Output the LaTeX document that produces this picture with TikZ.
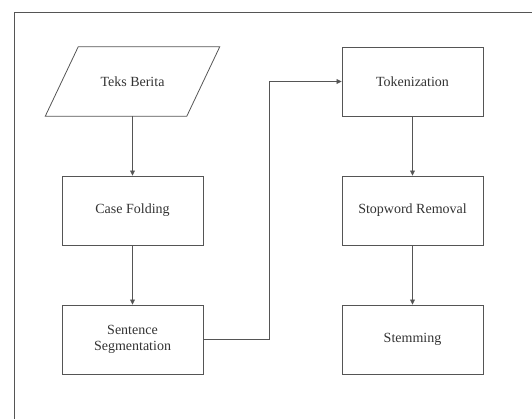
\documentclass[tikz,border=0pt]{standalone}
\usepackage{fontspec}
\setmainfont{Liberation Serif}
\usetikzlibrary{arrows.meta, calc, positioning}
\definecolor{linegray}{HTML}{555555}
\definecolor{textgray}{HTML}{333333}

\begin{document}
\begin{tikzpicture}[% styles used in the flow chart
  x=0.75pt, y=-0.75pt,
        > = {Triangle[length=3.8pt, width=3.6pt]},
every node/.style = {font=\fontsize{10.5}{12.5}\selectfont, text=textgray},
proc/.style = {draw=linegray, line width=0.6pt,
               minimum width=105.75pt, minimum height=51.75pt,
               inner sep=2pt, align=center},
data/.style = {minimum width=105.75pt, minimum height=51.75pt,
               inner sep=2pt, align=center},
flow/.style = {draw=linegray, line width=0.6pt, ->}
                    ]
	\useasboundingbox (0,0) rectangle (532,419);
	% outer frame
	\draw[linegray, line width=0.6pt] (14,419) -- (14,12) -- (532,12);

	% left column
	\node[data] (teks) at (132.5,81.5) {Teks Berita};
	\draw[linegray, line width=0.6pt]
	     ($(teks.north west)+(16.5,0)$) -- ($(teks.north east)+(16.5,0)$)
	  -- ($(teks.south east)-(16.5,0)$) -- ($(teks.south west)-(16.5,0)$)
	  -- cycle;
	\node[proc] (fold) at (132.5,210.5) {Case Folding};
	\node[proc] (seg)  at (132.5,339.5) {Sentence\\Segmentation};

	% right column
	\node[proc] (tok)  at (412.5,81.5)  {Tokenization};
	\node[proc] (stop) at (412.5,210.5) {Stopword Removal};
	\node[proc] (stem) at (412.5,339.5) {Stemming};

	\coordinate (turn) at (269,81.5);

	\draw[flow] (teks) -- (fold);
	\draw[flow] (fold) -- (seg);
	\draw[flow] (seg.east) -| (turn) -- (tok.west);
	\draw[flow] (tok) -- (stop);
	\draw[flow] (stop) -- (stem);
\end{tikzpicture}
\end{document}
